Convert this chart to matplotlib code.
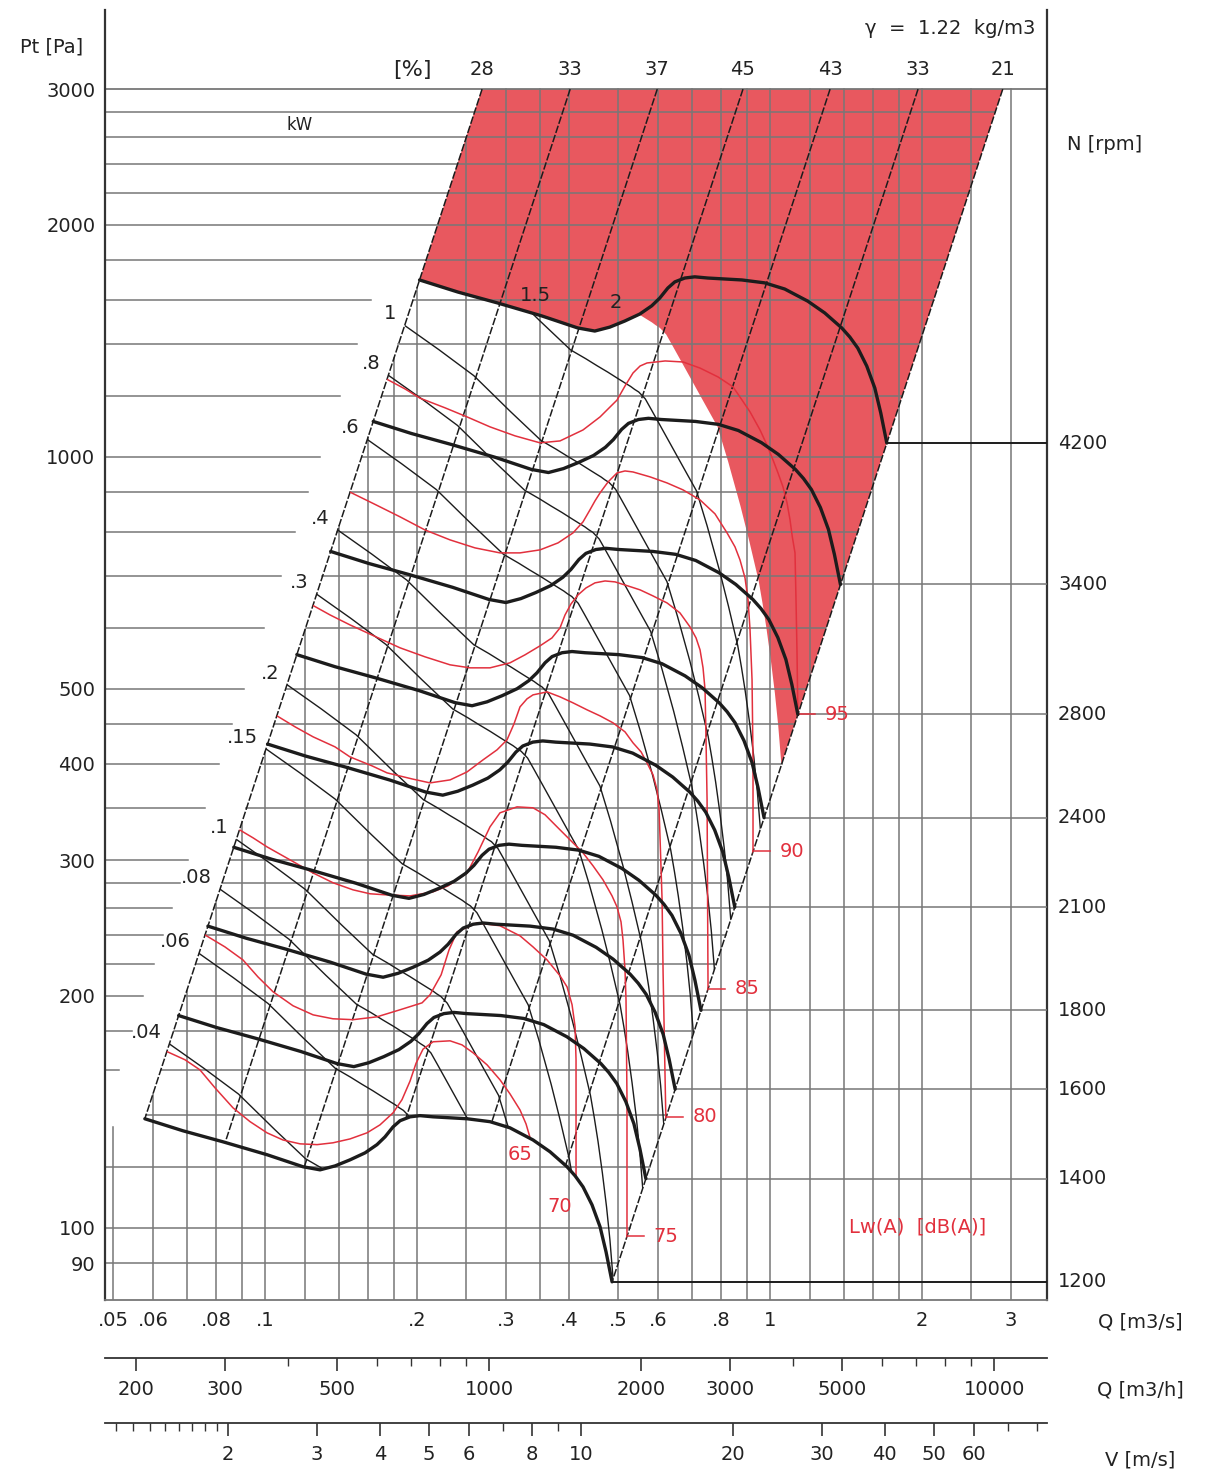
"""Fan selection chart: Pt vs Q (log-log), rpm / kW / Lw(A) families at 1.22 kg/m3."""
import numpy as np
import matplotlib
matplotlib.use("Agg")
import matplotlib.pyplot as plt
from matplotlib.patches import Polygon
from matplotlib.ticker import NullLocator, FixedLocator, NullFormatter

FIG_W, FIG_H, DPI = 1211, 1476, 100

# fan curve at 1200 rpm (lowest thick curve), Q [m3/s], Pt [Pa], absorbed power [kW]
BASE_RPM = 1200
base_q = np.array([0.0578, 0.0688, 0.0825, 0.1009, 0.1189, 0.1285, 0.1376, 0.1473, 0.1578, 0.1666,
                   0.1728, 0.1793, 0.1851, 0.1937, 0.2027, 0.2151, 0.2512, 0.2789, 0.3055, 0.3394,
                   0.3667, 0.3963, 0.4111, 0.4263, 0.4441, 0.4607, 0.4734, 0.4866])
base_p = np.array([138.5, 133.6, 129.3, 124.4, 120.0, 118.9, 120.3, 122.5, 125.1, 128.2,
                   131.2, 135.2, 137.7, 139.3, 139.8, 139.3, 138.5, 137.3, 134.8, 130.0,
                   125.5, 120.0, 116.8, 113.0, 107.1, 100.3, 93.1, 85.1])
base_kw = np.array([0.0286, 0.0302, 0.0323, 0.0358, 0.0386, 0.0396, 0.0416, 0.0440, 0.0468, 0.0496,
                    0.0520, 0.0551, 0.0573, 0.0601, 0.0634, 0.0675, 0.0798, 0.0889, 0.1011, 0.1170,
                    0.1304, 0.1452, 0.1539, 0.1630, 0.1735, 0.1830, 0.1896, 0.1972])

rpm_lines = [1200, 1400, 1600, 1800, 2100, 2400, 2800, 3400, 4200]
kw_lines = [0.04, 0.06, 0.08, 0.1, 0.15, 0.2, 0.3, 0.4, 0.6, 0.8, 1, 1.5]
kw_names = [".04", ".06", ".08", ".1", ".15", ".2", ".3", ".4", ".6", ".8", "1", None]
KW_LIMIT = 2.0   # red zone edge

eff_pct = [28, 33, 37, 45, 43, 33, 21]
eff_q_top = [0.269, 0.402, 0.598, 0.884, 1.315, 1.964, 2.89]   # where each line reaches 3000 Pa
P_TOP = 3000

# Lw(A) [dB(A)] curves
lw_levels = [65, 70, 75, 80, 85, 90, 95]
lw_q = [
    [0.0634, 0.0694, 0.0743, 0.0796, 0.0864, 0.0934, 0.1009, 0.1085, 0.1173, 0.1268, 0.1363, 0.1473,
     0.1592, 0.1689, 0.1793, 0.1867, 0.1937, 0.1991, 0.2055, 0.2151, 0.2325, 0.2455, 0.2581, 0.2752,
     0.2919, 0.3055, 0.3198, 0.3287, 0.3370],
    [0.0760, 0.0833, 0.0904, 0.0968, 0.1037, 0.1136, 0.1245, 0.1363, 0.1494, 0.1666, 0.1851, 0.2046,
     0.2122, 0.2232, 0.2314, 0.2400, 0.2629, 0.2919, 0.3198, 0.3394, 0.3618, 0.3838, 0.3963, 0.4055,
     0.4111, 0.4129, 0.4129, 0.4129],
    [0.0884, 0.0947, 0.1009, 0.1121, 0.1245, 0.1363, 0.1494, 0.1614, 0.1744, 0.1937, 0.2151, 0.2303,
     0.2512, 0.2642, 0.2789, 0.2919, 0.3155, 0.3394, 0.3585, 0.3787, 0.4018, 0.4263, 0.4462, 0.4670,
     0.4866, 0.4977, 0.5069, 0.5115, 0.5162, 0.5186, 0.5209, 0.5209],
    [0.1056, 0.1147, 0.1245, 0.1376, 0.1473, 0.1629, 0.1744, 0.1955, 0.2122, 0.2325, 0.2512, 0.2702,
     0.2880, 0.3014, 0.3112, 0.3198, 0.3302, 0.3394, 0.3618, 0.3838, 0.4073, 0.4342, 0.4607, 0.4888,
     0.5162, 0.5354, 0.5554, 0.5707, 0.5866, 0.5975, 0.6030, 0.6058, 0.6113, 0.6141, 0.6225],
    [0.1239, 0.1345, 0.1473, 0.1659, 0.1851, 0.2074, 0.2325, 0.2546, 0.2789, 0.3055, 0.3272, 0.3504,
     0.3700, 0.3838, 0.3927, 0.4036, 0.4167, 0.4320, 0.4502, 0.4713, 0.4933, 0.5233, 0.5529, 0.5866,
     0.6252, 0.6632, 0.6943, 0.7137, 0.7268, 0.7368, 0.7436, 0.7469, 0.7505, 0.7540],
    [0.1470, 0.1659, 0.1851, 0.2074, 0.2325, 0.2605, 0.2919, 0.3198, 0.3504, 0.3804, 0.4073, 0.4263,
     0.4400, 0.4502, 0.4607, 0.4779, 0.4977, 0.5162, 0.5354, 0.5786, 0.6252, 0.6724, 0.7268, 0.7780,
     0.8221, 0.8524, 0.8720, 0.8922, 0.9047, 0.9129, 0.9213, 0.9254, 0.9254],
    [0.1740, 0.1894, 0.2027, 0.2272, 0.2512, 0.2789, 0.3126, 0.3504, 0.3838, 0.4263, 0.4607, 0.4822,
     0.4977, 0.5162, 0.5354, 0.5529, 0.5707, 0.6198, 0.6724, 0.7268, 0.7888, 0.8446, 0.8720, 0.9129,
     0.9554, 0.9864, 1.0137, 1.0371, 1.0610, 1.0806, 1.0955, 1.1070, 1.1207, 1.1258, 1.1310, 1.1361],
]
lw_p = [
    [169.7, 165.2, 160.3, 151.9, 143.1, 137.3, 132.8, 130.0, 128.5, 128.2, 128.9, 130.4,
     132.8, 136.0, 141.0, 146.6, 155.0, 163.5, 170.5, 174.3, 174.8, 172.7, 168.7, 162.7,
     155.6, 149.2, 142.2, 136.4, 129.0],
    [239.9, 231.4, 222.6, 211.6, 202.4, 194.1, 188.9, 186.7, 186.2, 187.8, 191.8, 195.8,
     200.6, 212.9, 229.4, 242.1, 248.6, 246.5, 239.2, 231.4, 222.6, 212.3, 205.4, 194.7,
     182.3, 165.2, 146.6, 113.7],
    [329.2, 320.5, 312.0, 300.1, 288.6, 280.3, 274.4, 271.2, 270.3, 269.5, 272.8, 277.7,
     288.6, 307.4, 331.2, 345.4, 351.6, 350.6, 343.4, 331.2, 318.6, 306.5, 294.8, 282.7,
     269.5, 260.8, 249.4, 236.3, 216.1, 197.6, 146.6, 93.6],
    [461.4, 446.5, 433.4, 420.6, 408.2, 397.4, 389.2, 382.2, 377.7, 381.1, 390.3, 404.6,
     416.9, 429.5, 450.6, 474.0, 485.5, 491.3, 495.7, 488.4, 479.7, 469.8, 461.4, 451.9,
     439.9, 425.7, 414.4, 401.0, 386.9, 370.0, 348.5, 318.6, 266.3, 214.2, 134.0],
    [642.7, 623.8, 605.5, 584.2, 565.4, 550.4, 537.4, 532.6, 532.6, 540.6, 553.7, 568.8,
     582.4, 600.1, 623.8, 644.7, 662.3, 676.1, 686.5, 690.4, 688.5, 680.2, 672.3, 660.2,
     646.6, 627.6, 601.9, 582.4, 562.0, 532.6, 498.8, 429.5, 359.1, 197.6],
    [900.9, 866.5, 836.1, 804.0, 780.5, 762.1, 750.8, 750.8, 757.6, 773.6, 797.0, 823.8,
     853.8, 877.0, 898.2, 928.1, 953.3, 959.0, 956.1, 942.2, 925.3, 906.3, 879.6, 843.7,
     797.0, 764.4, 735.3, 696.8, 652.5, 596.6, 513.8, 404.6, 300.1],
    [1262, 1225, 1192, 1158, 1127, 1094, 1065, 1043, 1049, 1084, 1127, 1161,
     1185, 1236, 1285, 1312, 1324, 1332, 1328, 1304, 1270, 1233, 1196, 1144,
     1084, 1036, 991.1, 953.3, 914.4, 871.8, 828.7, 787.6, 750.8, 652.5, 557.0, 449.2],
]
lw_free_labels = {65: (0.3198, 124.4), 70: (0.3838, 106.5)}

# grid
grid_q = [0.05, 0.06, 0.07, 0.08, 0.09, 0.1, 0.12, 0.14, 0.16, 0.18, 0.2, 0.25, 0.3, 0.35, 0.4,
          0.5, 0.6, 0.7, 0.8, 0.9, 1, 1.2, 1.4, 1.6, 1.8, 2, 2.5, 3]
grid_p = [90, 100, 120, 140, 160, 180, 200, 220, 240, 260, 280, 300, 350, 400, 450, 500, 600,
          700, 800, 900, 1000, 1200, 1400, 1600, 1800, 2000, 2200, 2400, 2600, 2800]
q_ticks = [0.05, 0.06, 0.08, 0.1, 0.2, 0.3, 0.4, 0.5, 0.6, 0.8, 1, 2, 3]
q_tick_labels = [".05", ".06", ".08", ".1", ".2", ".3", ".4", ".5", ".6", ".8", "1", "2", "3"]
p_ticks = [90, 100, 200, 300, 400, 500, 1000, 2000, 3000]

qh_ticks = [200, 300, 500, 1000, 2000, 3000, 5000, 10000]
qh_minor = [200, 300, 400, 500, 600, 700, 800, 900, 1000, 2000, 3000, 4000, 5000, 6000, 7000,
            8000, 9000, 10000]
v_ticks = [2, 3, 4, 5, 6, 8, 10, 20, 30, 40, 50, 60]
v_minor = [1.2, 1.3, 1.4, 1.5, 1.6, 1.7, 1.8, 1.9, 2, 3, 4, 5, 6, 7, 8, 9, 10, 20, 30, 40, 50,
           60, 70, 80]
OUTLET_AREA = 0.0422   # m2, V = Q / A

XMIN, XMAX = 0.0482, 3.536
YMIN, YMAX = 80.6, 3800
MASK_P = 135          # lower edge of the blank area left of the 28 % line
LABEL_GAP = 0.826     # left stubs stop short of the 28 % line

GRID = "#777777"
RED_FILL = "#e8585f"
RED_LINE = "#e2303d"
INK = "#1c1c1c"

plt.rcParams["font.family"] = ["DejaVu Sans"]
plt.rcParams["font.size"] = 14

fig = plt.figure(figsize=(FIG_W / DPI, FIG_H / DPI), dpi=DPI)
ax = fig.add_axes([105 / FIG_W, (FIG_H - 1300) / FIG_H, 942 / FIG_W, 1290 / FIG_H])
ax.set_xscale("log")
ax.set_yscale("log")
ax.set_xlim(XMIN, XMAX)
ax.set_ylim(YMIN, YMAX)


def fan_curve(n):
    r = n / BASE_RPM
    return base_q * r, base_p * r ** 2


def kw_curve(w):
    r = (w / base_kw) ** (1 / 3)
    return base_q * r, base_p * r ** 2


k_left = base_p[0] / base_q[0] ** 2
k_right = base_p[-1] / base_q[-1] ** 2
q_left_top = np.sqrt(P_TOP / k_left)
q_right_top = np.sqrt(P_TOP / k_right)

q_lo, p_lo = fan_curve(rpm_lines[0])
q_hi, p_hi = fan_curve(rpm_lines[-1])
band = Polygon(list(zip(q_lo, p_lo)) + list(zip(q_hi[::-1], p_hi[::-1])), closed=True,
               transform=ax.transData)
above_base = Polygon([(XMIN / 10, P_TOP * 10), (XMIN / 10, base_p[0])] + list(zip(base_q, base_p))
                     + [(XMAX * 10, base_p[-1]), (XMAX * 10, P_TOP * 10)], closed=True,
                     transform=ax.transData)

# red zone: above the top speed and beyond the power limit
ax.add_patch(Polygon([(q_left_top, P_TOP), (q_right_top, P_TOP)] + list(zip(q_hi[::-1], p_hi[::-1])),
                     closed=True, facecolor=RED_FILL, edgecolor="none", zorder=1))
qk, pk = kw_curve(KW_LIMIT)
ax.add_patch(Polygon(list(zip(qk, pk)) + [(q_right_top, P_TOP), (q_left_top, P_TOP)],
                     closed=True, facecolor=RED_FILL, edgecolor="none", zorder=1))

# vertical grid
for q in grid_q:
    top = min(P_TOP, max(MASK_P, k_left * q * q))
    ax.plot([q, q], [YMIN, top], color=GRID, lw=1.1, zorder=2)
# horizontal grid
p_corner_hi = p_hi[0]
for p in grid_p:
    q_r = np.sqrt(p / k_right)
    q_l = np.sqrt(p / k_left)
    if base_p[0] < p < p_corner_hi:
        ax.plot([XMIN, q_l * LABEL_GAP], [p, p], color=GRID, lw=1.1, zorder=2)
        ax.plot([q_l, q_r], [p, p], color=GRID, lw=1.1, zorder=2)
    else:
        ax.plot([XMIN, q_r], [p, p], color=GRID, lw=1.1, zorder=2)
ax.plot([XMIN, XMAX], [P_TOP, P_TOP], color=GRID, lw=1.3, zorder=2)

# rpm lead lines to the right axis
for i, n in enumerate(rpm_lines):
    qc, pc = fan_curve(n)
    end = i == 0 or i == len(rpm_lines) - 1
    ax.plot([qc[-1], XMAX], [pc[-1], pc[-1]], color=INK if end else GRID,
            lw=1.4 if end else 1.1, zorder=3)
    ax.annotate(str(n), (XMAX, pc[-1]), xytext=(11, 0), textcoords="offset pixels",
                ha="left", va="center", fontsize=14, color="#222", annotation_clip=False)

# efficiency lines (system parabolas)
for pct, qt in zip(eff_pct, eff_q_top):
    ln, = ax.plot([qt, qt / 10], [P_TOP, P_TOP / 100], color=INK, lw=1.1,
                  dashes=(5, 1.3), zorder=4)
    ln.set_clip_path(above_base)
    ax.annotate(str(pct), (qt, P_TOP), xytext=(0, 20), textcoords="offset pixels",
                ha="center", va="center", fontsize=14, color="#222", annotation_clip=False)

# iso-power lines
for w, name in zip(kw_lines, kw_names):
    qc, pc = kw_curve(w)
    ln, = ax.plot(qc, pc, color=INK, lw=1.0, zorder=4)
    ln.set_clip_path(band)
    if name:
        ax.annotate(name, (qc[0], pc[0]), xytext=(-8, 2), textcoords="offset pixels",
                    ha="right", va="bottom", fontsize=14, color="#222")
ax.text(0.3424, 1622, "1.5", ha="center", va="center", fontsize=14, color="#222")
ax.text(0.4955, 1584, "2", ha="center", va="center", fontsize=14, color="#222")

# sound power lines
for lev, qs, ps in zip(lw_levels, lw_q, lw_p):
    ln, = ax.plot(qs, ps, color=RED_LINE, lw=1.1, zorder=5)
    ln.set_clip_path(band)
    if lev in lw_free_labels:
        ax.text(*lw_free_labels[lev], str(lev), ha="center", va="center", fontsize=14,
                color=RED_LINE)
    else:
        q_end = qs[-1]
        p_end = k_right * q_end ** 2
        ax.plot([q_end, q_end * 1.08], [p_end, p_end], color=RED_LINE, lw=1.1, zorder=5)
        ax.text(q_end * 1.13, p_end, str(lev), ha="left", va="center", fontsize=14,
                color=RED_LINE)

# fan curves
for n in rpm_lines:
    qc, pc = fan_curve(n)
    ax.plot(qc, pc, color=INK, lw=2.4, zorder=6, solid_capstyle="round")

# axes cosmetics
for side in ("left", "right"):
    ax.spines[side].set_color("#333")
    ax.spines[side].set_linewidth(1.6)
ax.spines["top"].set_visible(False)
ax.spines["bottom"].set_color(GRID)
ax.spines["bottom"].set_linewidth(1.3)
ax.xaxis.set_major_locator(FixedLocator(q_ticks))
ax.set_xticklabels(q_tick_labels)
ax.xaxis.set_minor_locator(NullLocator())
ax.yaxis.set_major_locator(FixedLocator(p_ticks))
ax.set_yticklabels([str(p) for p in p_ticks])
ax.yaxis.set_minor_locator(NullLocator())
ax.tick_params(axis="x", length=0, pad=8, labelsize=14, labelcolor="#222")
ax.tick_params(axis="y", length=0, pad=7, labelsize=14, labelcolor="#222")


def bottom_scale(y_px, factor, major, minor, fmt):
    a = fig.add_axes([105 / FIG_W, (FIG_H - y_px) / FIG_H, 942 / FIG_W, 1e-5])
    a.set_xscale("log")
    a.set_xlim(XMIN * factor, XMAX * factor)
    a.set_yticks([])
    for s in ("left", "right", "top"):
        a.spines[s].set_visible(False)
    a.spines["bottom"].set_color("#333")
    a.spines["bottom"].set_linewidth(1.3)
    a.xaxis.set_major_locator(FixedLocator(major))
    a.set_xticklabels([fmt(v) for v in major])
    a.xaxis.set_minor_locator(FixedLocator(minor))
    a.xaxis.set_minor_formatter(NullFormatter())
    a.tick_params(axis="x", which="major", direction="out", length=9, width=1.2, pad=7,
                  labelsize=14, labelcolor="#222", color="#333")
    a.tick_params(axis="x", which="minor", direction="out", length=6, width=1.0, color="#333")
    a.patch.set_visible(False)
    return a


bottom_scale(1358, 3600, qh_ticks, qh_minor, lambda v: f"{v:g}")
bottom_scale(1423, 1 / OUTLET_AREA, v_ticks, v_minor, lambda v: f"{v:g}")


def ftext(x, y, s, **kw):
    kw.setdefault("fontsize", 14)
    kw.setdefault("color", "#222")
    fig.text(x / FIG_W, 1 - y / FIG_H, s, **kw)


ftext(52, 47, "Pt [Pa]", ha="center", va="center")
ftext(1035, 28, "\u03b3  =  1.22  kg/m3", ha="right", va="center")
ftext(412, 70, "[%]", ha="center", va="center", fontsize=16)
ftext(300, 125, "kW", ha="center", va="center", fontsize=12)
ftext(1105, 145, "N [rpm]", ha="center", va="center")
ftext(1140, 1322, "Q [m3/s]", ha="center", va="center")
ftext(1140, 1390, "Q [m3/h]", ha="center", va="center")
ftext(1140, 1460, "V [m/s]", ha="center", va="center")
ftext(918, 1227, "Lw(A)  [dB(A)]", ha="center", va="center", color=RED_LINE)

fig.savefig("out.png", dpi=DPI)
